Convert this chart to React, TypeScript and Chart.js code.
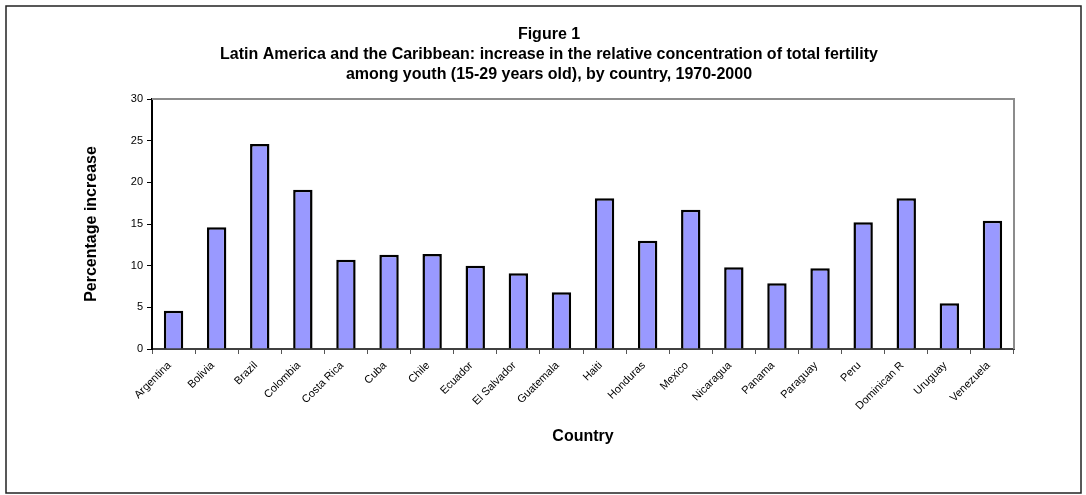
import React, { useEffect, useRef } from "react";
import { Chart, registerables } from "chart.js";

Chart.register(...registerables);

const titleLines = [
  "Figure 1",
  "Latin America and the Caribbean: increase in the relative concentration of total fertility",
  "among youth (15-29 years old), by country, 1970-2000",
];
const countries = [
  "Argentina", "Bolivia", "Brazil", "Colombia", "Costa Rica", "Cuba", "Chile", "Ecuador",
  "El Salvador", "Guatemala", "Haiti", "Honduras", "Mexico", "Nicaragua", "Panama",
  "Paraguay", "Peru", "Dominican R", "Uruguay", "Venezuela",
];
const increases = [
  4.6, 14.6, 24.6, 19.1, 10.7, 11.3, 11.4, 10.0, 9.1, 6.8,
  18.1, 13.0, 16.7, 9.8, 7.9, 9.7, 15.2, 18.1, 5.5, 15.4,
];
const yTicks = [0, 5, 10, 15, 20, 25, 30];
const xAxisTitle = "Country";
const yAxisTitle = "Percentage increase";

const W = 1086;
const H = 495;
const FONT = '"Liberation Sans", Arial, Helvetica, sans-serif';

const framePlugin = {
  id: "frame",
  beforeDraw(chart: any) {
    const ctx = chart.ctx;
    ctx.save();
    ctx.fillStyle = "#ffffff";
    ctx.fillRect(0, 0, chart.width, chart.height);
    ctx.strokeStyle = "#222222";
    ctx.lineWidth = 1.5;
    ctx.strokeRect(6, 6, 1075, 487);
    ctx.restore();
  },
  beforeDatasetsDraw(chart: any) {
    const { ctx, chartArea } = chart;
    ctx.save();
    ctx.strokeStyle = "#8c8c8c";
    ctx.lineWidth = 2;
    ctx.beginPath();
    ctx.moveTo(chartArea.left, chartArea.top);
    ctx.lineTo(chartArea.right, chartArea.top);
    ctx.lineTo(chartArea.right, chartArea.bottom);
    ctx.stroke();
    ctx.restore();
  },
};

export default function App() {
  const ref = useRef<HTMLCanvasElement>(null);
  useEffect(() => {
    if (!ref.current) return;
    Chart.defaults.font.family = FONT;
    Chart.defaults.color = "#000000";
    const chart = new Chart(ref.current, {
      type: "bar",
      data: {
        labels: countries,
        datasets: [
          {
            data: increases,
            backgroundColor: "#9999FF",
            borderColor: "#000000",
            borderWidth: 2.5,
            barPercentage: 0.45,
            categoryPercentage: 1,
            yAxisID: "y",
          },
        ],
      },
      options: {
        responsive: false,
        animation: false,
        devicePixelRatio: 1,
        layout: { padding: { left: 12, right: 0, top: 0, bottom: 0 } },
        plugins: {
          legend: { display: false },
          tooltip: { enabled: false },
          title: {
            display: true,
            text: titleLines,
            font: { size: 16, weight: "bold", family: FONT, lineHeight: 1.25 },
            color: "#000000",
            padding: { top: 25, bottom: 14 },
          },
        },
        scales: {
          x: {
            afterFit: (s: any) => {
              s.height = 146;
            },
            grid: {
              offset: true,
              drawOnChartArea: false,
              drawTicks: true,
              tickLength: 5,
              color: "#555555",
              lineWidth: 1,
            },
            border: { display: true, color: "#404040", width: 2 },
            ticks: {
              autoSkip: false,
              maxRotation: 45,
              minRotation: 45,
              padding: 5,
              labelOffset: -4,
              font: { size: 11, family: FONT },
              color: "#000000",
            },
            title: {
              display: true,
              text: xAxisTitle,
              font: { size: 16, weight: "bold", family: FONT, lineHeight: 1.2 },
              color: "#000000",
              padding: { top: 0, bottom: 49 },
            },
          },
          y: {
            min: 0,
            max: 30,
            afterFit: (s: any) => {
              s.width = 140;
            },
            afterBuildTicks: (s: any) => {
              s.ticks = yTicks.map((v) => ({ value: v }));
            },
            grid: {
              drawOnChartArea: false,
              drawTicks: true,
              tickLength: 5,
              color: "#000000",
              lineWidth: 1,
            },
            border: { display: true, color: "#000000", width: 2 },
            ticks: {
              padding: 4,
              font: { size: 11, family: FONT },
              color: "#000000",
            },
            title: {
              display: true,
              text: yAxisTitle,
              font: { size: 16, weight: "bold", family: FONT, lineHeight: 1.2 },
              color: "#000000",
              padding: { top: 70, bottom: 0 },
            },
          },
          yRight: {
            position: "right",
            min: 0,
            max: 30,
            afterFit: (s: any) => {
              s.width = 72;
            },
            grid: { display: false, drawOnChartArea: false },
            border: { display: false },
            ticks: { display: false },
          },
        },
      },
      plugins: [framePlugin],
    });
    return () => chart.destroy();
  }, []);
  return (
    <div style={{ position: "absolute", left: 0, top: 0, width: W, height: H, background: "#fff" }}>
      <canvas ref={ref} width={W} height={H} style={{ display: "block", width: W, height: H }} />
    </div>
  );
}
